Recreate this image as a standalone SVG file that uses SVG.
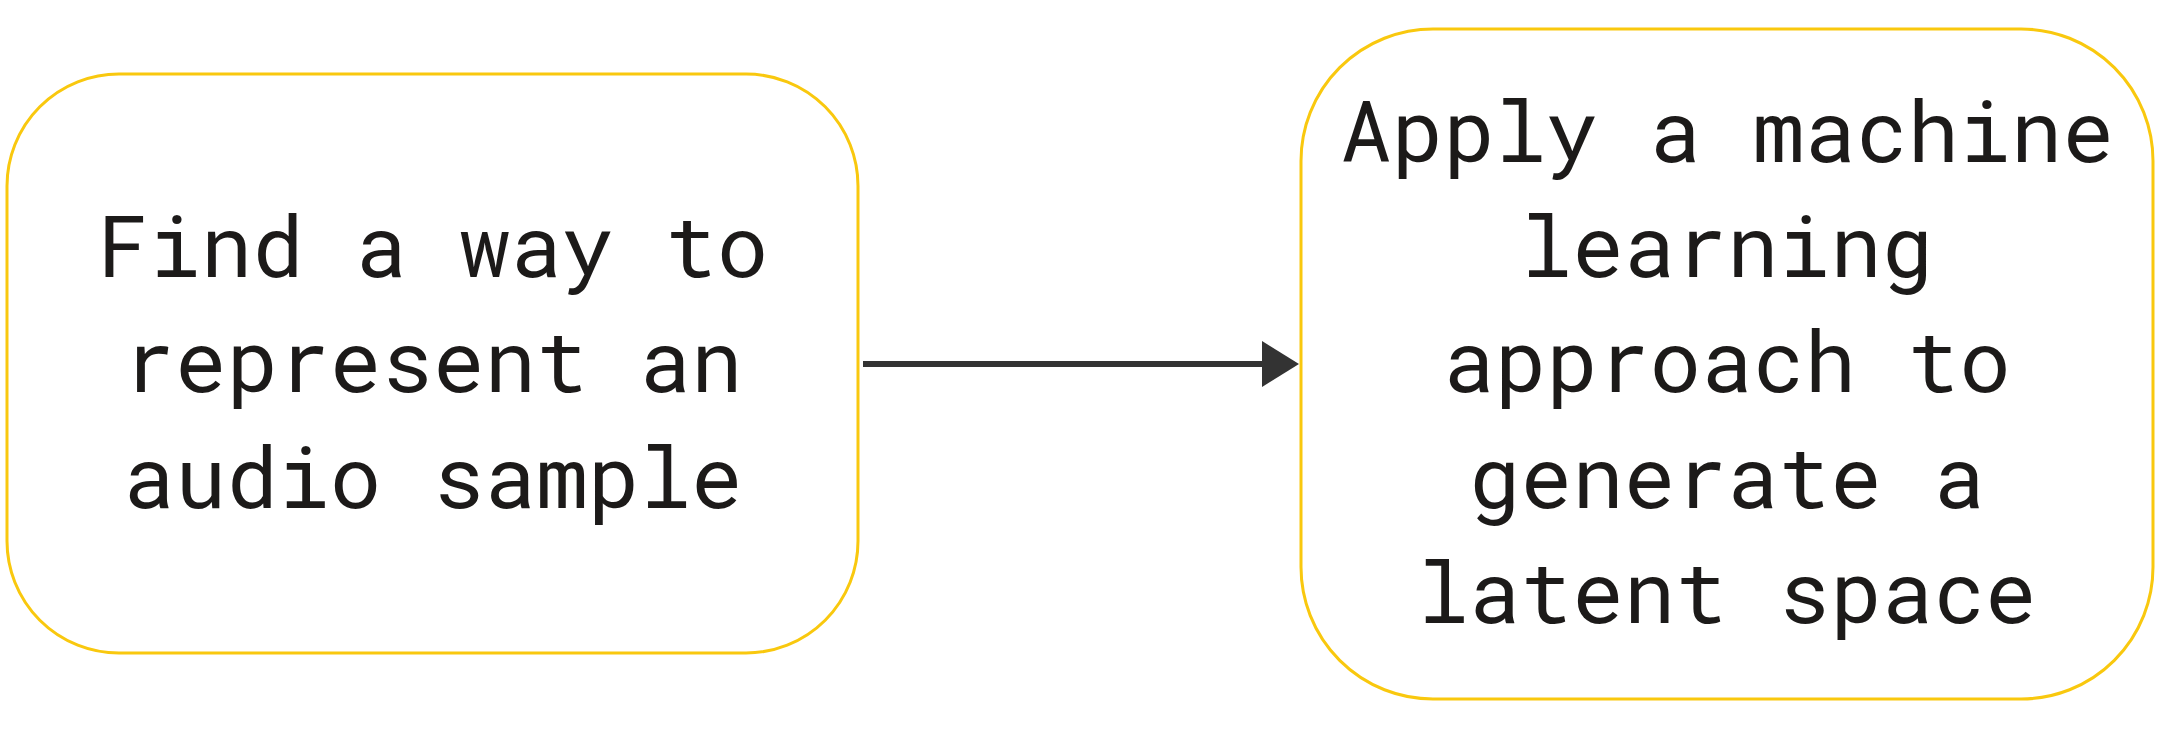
<svg xmlns="http://www.w3.org/2000/svg" width="2160" height="733" viewBox="0 0 2160 733">
<style>
.box{fill:#ffffff;stroke:#F9C80E;stroke-width:3}
.t{font-family:"Roboto Mono","DejaVu Sans Mono","Liberation Mono",monospace;font-size:86px;fill:#1c1a19;text-anchor:middle}
</style>
<defs>
<marker id="ah" markerUnits="userSpaceOnUse" markerWidth="40" markerHeight="46" refX="0" refY="23" orient="auto">
<path d="M0,0 L37,23 L0,46 Z" fill="#333333"/>
</marker>
</defs>
<rect width="2160" height="733" fill="#ffffff"/>
<g id="node-represent">
<rect class="box" x="7" y="74" width="851" height="579" rx="112" ry="112"/>
<text class="t" x="433" y="277">Find a way to</text>
<text class="t" x="433" y="392">represent an</text>
<text class="t" x="433" y="508">audio sample</text>
</g>
<g id="node-ml">
<rect class="box" x="1301" y="29" width="852" height="670" rx="132" ry="132"/>
<text class="t" x="1727" y="162">Apply a machine</text>
<text class="t" x="1727" y="277">learning</text>
<text class="t" x="1727" y="392">approach to</text>
<text class="t" x="1727" y="508">generate a</text>
<text class="t" x="1727" y="623">latent space</text>
</g>
<g id="connectors">
<line x1="863" y1="364" x2="1262" y2="364" stroke="#333333" stroke-width="6" marker-end="url(#ah)"/>
</g>
</svg>
